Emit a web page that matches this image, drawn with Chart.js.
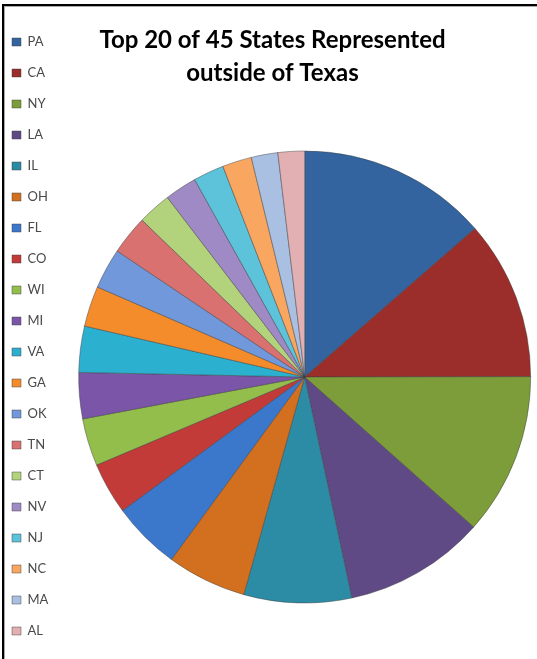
<!DOCTYPE html>
<html>
<head>
<meta charset="utf-8">
<script src="https://cdn.jsdelivr.net/npm/chart.js@4/dist/chart.umd.min.js"></script>
<style>
    html, body { margin: 0; padding: 0; background: #fff; overflow: hidden; }
    body { width: 537px; height: 659px; position: relative; }
    #wrap { position: absolute; left: -6px; top: 10px; width: 557px; height: 653px; }
    #frame {
        position: absolute; left: 2px; top: 4px; width: 600px; height: 700px;
        border-left: 2px solid #000; border-top: 2px solid #000;
        box-shadow: inset 1px 1px 0 #aaa;
        pointer-events: none;
    }
</style>
</head>
<body>
<div id="wrap"><canvas id="chart"></canvas></div>
<div id="frame"></div>
<script>
// states in legend order, slice share (percent)
const states = ['PA', 'CA', 'NY', 'LA', 'IL', 'OH', 'FL', 'CO', 'WI', 'MI',
                'VA', 'GA', 'OK', 'TN', 'CT', 'NV', 'NJ', 'NC', 'MA', 'AL'];
const shares = [13.6, 11.4, 11.6, 10.1, 7.7, 5.7, 4.9, 3.7, 3.4, 3.3,
                3.3, 2.9, 2.9, 2.8, 2.4, 2.3, 2.2, 2.1, 1.9, 1.9];
const chartTitle = ['Top 20 of 45 States Represented', 'outside of Texas'];

const sliceColors = [
    '#3364A0', // dark blue
    '#9B2D2A', // dark red
    '#7D9C3A', // olive green
    '#5F4A85', // dark purple
    '#2D8CA5', // teal
    '#D2701F', // dark orange
    '#3B78CC', // blue
    '#C23B38', // red
    '#93BE4C', // green
    '#7A55A8', // purple
    '#2CB0CF', // aqua
    '#F48C2C', // orange
    '#7098DA', // light blue
    '#D8716F', // light red
    '#B3D27C', // light green
    '#A08AC6', // light purple
    '#5CC3DB', // light aqua
    '#F9A760', // light orange
    '#AAC0E2', // pale blue
    '#E2B0B2', // pale pink
];

const ctx = document.getElementById('chart').getContext('2d');

new Chart(ctx, {
    type: 'pie',
    data: {
        labels: states,
        datasets: [{
            data: shares,
            backgroundColor: sliceColors,
            borderColor: 'rgba(60,60,60,0.45)',
            borderWidth: 1,
            radius: 226,
        }],
    },
    options: {
        responsive: true,
        maintainAspectRatio: false,
        animation: false,
        layout: { padding: 0 },
        plugins: {
            legend: {
                position: 'left',
                labels: {
                    boxWidth: 9,
                    boxHeight: 8,
                    padding: 18,
                    color: '#4a4a4a',
                    font: { family: 'Lato', size: 13 },
                },
            },
            title: {
                display: true,
                text: chartTitle,
                color: '#000',
                font: { family: 'Lato', size: 24, weight: 'bold', lineHeight: 1.375 },
                padding: { top: 13.5, bottom: 1.5 },
            },
            tooltip: { enabled: false },
        },
    },
});
</script>
</body>
</html>
